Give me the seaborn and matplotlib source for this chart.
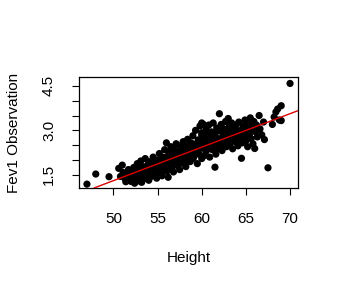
import numpy as np
import pandas as pd
import matplotlib
matplotlib.use("Agg")
import matplotlib.pyplot as plt
import seaborn as sns

height = [
    47.0, 48.0, 49.5,
    50.6, 50.8, 51.0, 51.1, 51.3, 51.4, 51.6, 51.7, 51.9, 52.0, 52.1, 52.2, 52.3, 52.4, 52.5,
    52.6, 52.7, 52.8, 52.9, 53.0, 53.1, 53.2, 53.3, 53.4, 53.5, 53.6, 53.7, 53.8, 53.9, 54.0,
    54.1, 54.2, 54.3, 54.4, 54.5,
    54.6, 54.7, 54.8, 54.9, 55.0, 55.1, 55.2, 55.3, 55.4, 55.5, 55.6, 55.7, 55.8, 55.9, 56.0,
    56.05, 56.1, 56.2, 56.3, 56.4, 56.5,
    56.6, 56.7, 56.8, 56.9, 57.0, 57.1, 57.2, 57.3, 57.4, 57.5, 57.6, 57.7, 57.8, 57.9, 58.0,
    58.1, 58.2, 58.3, 58.4, 58.5,
    58.6, 58.7, 58.8, 58.9, 59.0, 59.1, 59.2, 59.3, 59.4, 59.5, 59.6, 59.7, 59.8, 59.9, 60.0,
    60.0, 60.0, 60.1, 60.2, 60.2, 60.3, 60.4, 60.5, 60.5,
    60.6, 60.7, 60.8, 60.9, 61.0, 61.1, 61.2, 61.3, 61.4, 61.5, 61.5, 61.6, 61.7, 61.8, 61.9,
    62.0, 62.0, 62.1, 62.2, 62.3, 62.4, 62.5,
    62.6, 62.7, 62.8, 62.9, 63.0, 63.0, 63.1, 63.2, 63.3, 63.4, 63.5, 63.6, 63.7, 63.8, 63.9,
    64.0, 64.1, 64.2, 64.3, 64.4, 64.5,
    64.6, 64.7, 64.8, 64.9, 65.0, 65.1, 65.2, 65.3, 65.4, 65.5, 65.6, 65.7, 65.8, 65.9, 66.0,
    66.1, 66.2, 66.3, 66.5, 66.6,
    66.8, 67.0, 67.1, 67.5, 68.0, 68.2, 68.4, 68.6, 68.8, 69.0, 69.0, 70.0,
    51.5, 52.2, 52.8, 53.2, 53.6, 54.0, 54.4, 54.8, 55.2, 55.6, 56.0, 56.4, 56.8, 57.2, 57.6,
    58.0, 58.4, 58.8, 59.2, 59.6, 60.0, 60.0, 60.0, 60.3, 60.6, 61.0, 61.4, 61.8, 62.2, 62.6,
    63.0, 63.4, 63.8, 64.2, 64.6, 65.0, 65.4, 65.8, 59.8, 59.4, 58.6, 57.8, 57.0, 56.2, 55.4,
    54.6, 53.8, 53.0, 61.2, 62.4, 63.6, 64.8, 61.6, 62.8, 64.0, 65.2, 59.0, 58.2, 57.4, 56.6,
    55.8, 55.0, 54.2, 53.4, 52.6, 52.0,
]
fev1 = [
    1.19, 1.53, 1.44,
    1.72, 1.45, 1.83, 1.58, 1.38, 1.27, 1.52, 1.68, 1.33, 1.28, 1.47, 1.62, 1.75, 1.22, 1.40,
    1.55, 1.88, 1.30, 1.66, 1.45, 1.97, 1.25, 1.78, 1.58, 1.38, 2.05, 1.70, 1.50, 1.85, 1.32,
    1.62, 1.95, 1.45, 1.75, 2.10,
    1.55, 1.85, 1.68, 1.39, 2.00, 1.78, 2.22, 1.58, 1.92, 1.47, 2.10, 1.72, 2.35, 1.85, 2.58,
    1.62, 2.02, 1.42, 2.25, 1.90, 2.45,
    1.75, 2.15, 1.60, 2.38, 1.95, 2.55, 1.82, 2.28, 2.05, 1.68, 2.48, 2.18, 1.90, 2.62, 2.30,
    2.02, 1.78, 2.45, 2.70, 2.15,
    2.38, 1.95, 2.58, 2.25, 2.82, 2.10, 2.48, 3.00, 2.32, 1.88, 2.68, 2.20, 3.15, 2.55, 2.92,
    3.25, 2.05, 2.40, 2.75, 3.20, 2.15, 2.62, 3.05, 2.30,
    2.85, 2.48, 3.18, 2.10, 2.70, 2.95, 2.35, 3.25, 2.58, 1.76, 2.88, 2.20, 3.08, 2.45, 2.72,
    3.56, 2.98, 2.52, 3.20, 2.32, 2.80, 3.05,
    2.62, 3.30, 2.45, 2.90, 3.40, 2.70, 3.12, 2.55, 2.95, 3.25, 2.38, 2.80, 3.05, 2.62, 3.18,
    2.88, 2.48, 3.28, 2.72, 3.00, 2.06,
    2.58, 3.15, 2.82, 3.35, 2.65, 3.02, 2.45, 3.22, 2.90, 3.42, 2.72, 3.10, 2.55, 3.30, 2.39,
    2.95, 3.18, 2.78, 3.50, 3.05,
    2.85, 3.28, 2.69, 1.74, 3.20, 3.45, 3.62, 3.72, 3.35, 3.83, 3.33, 4.58,
    1.45, 1.52, 1.58, 1.62, 1.55, 1.72, 1.62, 1.82, 1.75, 1.88, 1.80, 2.08, 1.98, 2.12, 2.05,
    2.20, 2.25, 2.15, 2.30, 2.42, 2.50, 2.70, 2.85, 2.55, 2.38, 2.52, 2.45, 2.62, 2.68, 2.78,
    2.85, 2.68, 2.92, 2.95, 2.90, 3.05, 2.80, 3.05, 2.62, 2.55, 2.50, 2.38, 2.25, 2.15, 2.05,
    1.92, 1.78, 1.80, 2.78, 2.95, 3.10, 3.05, 2.35, 2.55, 2.65, 2.75, 2.05, 1.92, 1.88, 1.90,
    1.65, 1.58, 1.52, 1.45, 1.38, 1.42,
]

x_ticks = [50, 55, 60, 65, 70]
y_ticks = [1.5, 2.0, 2.5, 3.0, 3.5, 4.0, 4.5]
y_tick_labels = ["1.5", "", "", "3.0", "", "", "4.5"]

df = pd.DataFrame({"Height": height, "Fev1": fev1})

sns.set_style("white")
plt.rcParams["font.family"] = ["Liberation Sans", "DejaVu Sans"]
plt.rcParams["text.color"] = "black"
plt.rcParams["axes.labelcolor"] = "black"

fig = plt.figure(figsize=(3.39, 2.87), dpi=100)
ax = fig.add_axes([0.233, 0.345, 0.646, 0.387])

sns.scatterplot(data=df, x="Height", y="Fev1", ax=ax, color="black",
                s=27, edgecolor="none", linewidth=0, zorder=2)

slope, intercept = np.polyfit(df["Height"], df["Fev1"], 1)
ax.axline((0, intercept), slope=slope, color="#dd0000", lw=1.0, zorder=3)

ax.set_xlim(46.1, 70.9)
ax.set_ylim(1.06, 4.8)
ax.set_xticks(x_ticks)
ax.set_yticks(y_ticks)
ax.set_yticklabels(y_tick_labels, rotation=90, va="center")
ax.tick_params(axis="both", direction="out", length=5, width=0.8, color="black",
               labelsize=11, labelcolor="black", bottom=True, left=True)
ax.tick_params(axis="x", pad=12)
ax.tick_params(axis="y", pad=11.5)

for sp in ax.spines.values():
    sp.set_visible(True)
    sp.set_color("black")
    sp.set_linewidth(0.9)

ax.set_xlabel("Height", fontsize=11, labelpad=18, color="black")
ax.set_ylabel("Fev1 Observation", fontsize=11, labelpad=15, color="black")

fig.savefig("out.png", dpi=100, facecolor="white")
